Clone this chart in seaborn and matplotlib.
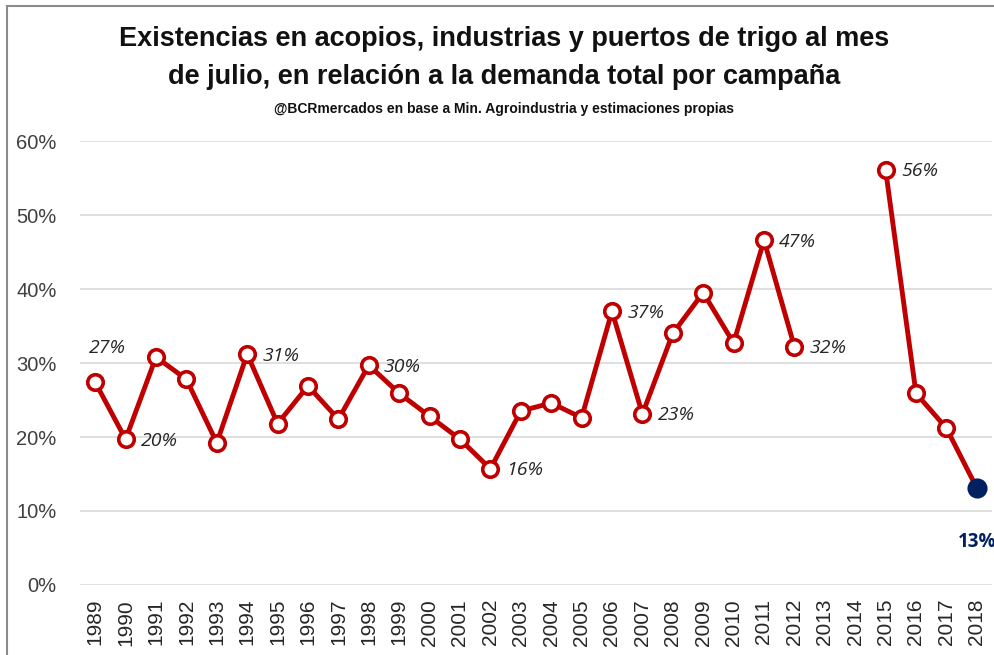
import numpy as np
import pandas as pd
import matplotlib
matplotlib.use("Agg")
import matplotlib.pyplot as plt
from matplotlib.patches import Rectangle
from matplotlib.ticker import PercentFormatter
import seaborn as sns

# Data (share of total demand, %)
years = [str(y) for y in range(1989, 2019)]
stocks_pct = [27.4, 19.7, 30.8, 27.8, 19.2, 31.2, 21.8, 26.9, 22.4, 29.7,
              25.9, 22.8, 19.7, 15.7, 23.5, 24.6, 22.6, 37.0, 23.1, 34.0,
              39.5, 32.7, 46.6, 32.2, np.nan, np.nan, 56.1, 25.9, 21.2, 13.1]
label_years = ['1989', '1990', '1994', '1998', '2002', '2006', '2007', '2011', '2012', '2015']
label_texts = ['27%', '20%', '31%', '30%', '16%', '37%', '23%', '47%', '32%', '56%']
last_year = '2018'
last_text = '13%'

RED = '#C00000'
NAVY = '#002060'

df = pd.DataFrame({'year': years, 'pct': stocks_pct})
df['idx'] = np.arange(len(df))
# two stretches: before and after the gap 2013-2014
df['tramo'] = np.where(df['idx'] < years.index('2013'), 'a', 'b')
df = df.dropna()

sns.set_style('white')
plt.rcParams['font.family'] = ['Liberation Sans', 'DejaVu Sans']

fig = plt.figure(figsize=(9.95, 6.55), dpi=100)
ax = fig.add_axes([80 / 995, 1 - 585 / 655, 912 / 995, 444 / 655])

sns.lineplot(data=df, x='idx', y='pct', hue='tramo', palette=[RED, RED],
             linewidth=3.5, legend=False, ax=ax, zorder=3)
pts = df[df['year'] != last_year]
sns.scatterplot(data=pts, x='idx', y='pct', s=125, facecolor='white',
                edgecolor=RED, linewidth=2.6, ax=ax, zorder=4)
last = df[df['year'] == last_year]
sns.scatterplot(data=last, x='idx', y='pct', s=180, color=NAVY,
                edgecolor=NAVY, ax=ax, zorder=5)

# data labels
lab_font = dict(fontsize=14, style='italic', color='#262626', family='Open Sans')
for yr, txt in zip(label_years, label_texts):
    i = years.index(yr)
    v = stocks_pct[i]
    if yr == '1989':
        ax.annotate(txt, (i, v), xytext=(9, 25), textcoords='offset points',
                    ha='center', va='center', **lab_font)
    else:
        ax.annotate(txt, (i, v), xytext=(11, -1), textcoords='offset points',
                    ha='left', va='center', **lab_font)
i = years.index(last_year)
ax.annotate(last_text, (i, stocks_pct[i]), xytext=(0, -39), textcoords='offset points',
            ha='center', va='center', fontsize=13.5, fontweight='bold', color=NAVY,
            family='Open Sans', annotation_clip=False)

ax.set_xlim(-0.5, len(years) - 0.5)
ax.set_ylim(0, 60)
ax.set_yticks(np.arange(0, 61, 10))
ax.yaxis.set_major_formatter(PercentFormatter(decimals=0))
ax.set_xticks(np.arange(len(years)))
ax.set_xticklabels(years, rotation=90, fontsize=15, color='#262626')
ax.tick_params(axis='y', labelsize=14.5, labelcolor='#404040', pad=17, length=0)
ax.tick_params(axis='x', pad=10, length=0)
ax.grid(axis='y', color='#D9D9D9', linewidth=1.2)
ax.set_axisbelow(True)
ax.set_xlabel('')
ax.set_ylabel('')
sns.despine(ax=ax, left=True, bottom=True)

fig.text(0.507, 1 - 39 / 655, 'Existencias en acopios, industrias y puertos de trigo al mes',
         ha='center', va='center', fontsize=19.5, fontweight='bold', color='#111111')
fig.text(0.507, 1 - 77 / 655, 'de julio, en relación a la demanda total por campaña',
         ha='center', va='center', fontsize=19.5, fontweight='bold', color='#111111')
fig.text(0.507, 1 - 109 / 655, '@BCRmercados en base a Min. Agroindustria y estimaciones propias',
         ha='center', va='center', fontsize=10, fontweight='bold', color='#111111')

# outer chart border
fig.patches.append(Rectangle((7 / 995, -0.05), 1.1, 1 - 6 / 655 + 0.05,
                             transform=fig.transFigure, fill=False,
                             edgecolor='#8C8C8C', linewidth=1.5))

fig.savefig('out.png', dpi=100)
